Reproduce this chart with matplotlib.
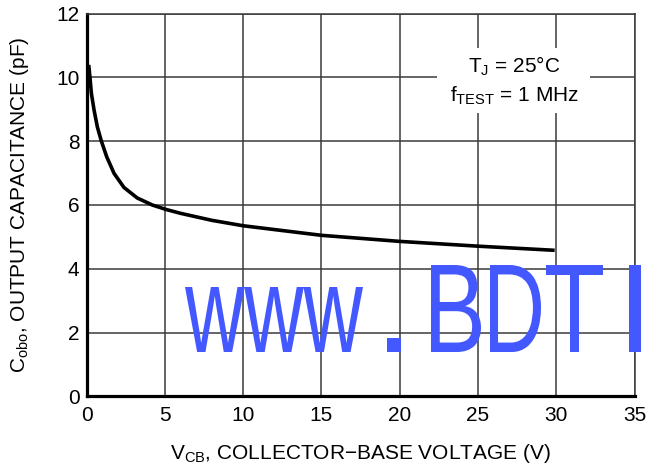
import numpy as np
import matplotlib
matplotlib.use("Agg")
import matplotlib.pyplot as plt
from matplotlib.textpath import TextPath
from matplotlib.patches import PathPatch, Rectangle
from matplotlib.font_manager import FontProperties
from matplotlib.transforms import Affine2D

# output capacitance vs collector-base voltage
vcb = [0.14, 0.22, 0.31, 0.48, 0.69, 0.95, 1.29, 1.76, 2.39, 3.24, 4.2, 5.08,
       6.0, 8.0, 10, 15, 20, 25, 29.9]
cobo = [10.39, 10.0, 9.5, 8.98, 8.45, 8.0, 7.51, 6.99, 6.55, 6.22, 6.0, 5.86,
        5.74, 5.52, 5.35, 5.05, 4.86, 4.71, 4.58]

x_ticks = [0, 5, 10, 15, 20, 25, 30, 35]
y_ticks = [0, 2, 4, 6, 8, 10, 12]

plt.rcParams['font.family'] = 'Liberation Sans'
plt.rcParams['mathtext.fontset'] = 'custom'
plt.rcParams['mathtext.rm'] = 'Liberation Sans'
plt.rcParams['mathtext.it'] = 'Liberation Sans:italic'

W, H = 650, 469
fs = 15
fig = plt.figure(figsize=(W / 100, H / 100), dpi=100)
ax = fig.add_axes([0.1331, 0.1546, 0.9762 - 0.1331, 0.9712 - 0.1546])

grid_c = '#3a3a3a'
ax.set_xlim(0, 35)
ax.set_ylim(0, 12)
ax.set_xticks(x_ticks)
ax.set_yticks(y_ticks)
ax.grid(True, color=grid_c, linewidth=1.1, zorder=1)
ax.set_axisbelow(True)
ax.tick_params(length=0, labelsize=fs, colors='black')
ax.tick_params(axis='x', pad=7)
ax.tick_params(axis='y', pad=5)
for s in ['left', 'bottom']:
    ax.spines[s].set_linewidth(2.3)
for s in ['top', 'right']:
    ax.spines[s].set_linewidth(1.1)
    ax.spines[s].set_color(grid_c)

ax.plot(vcb, cobo, color='black', linewidth=2.6, solid_joinstyle='round',
        solid_capstyle='butt', zorder=3)

ax.set_xlabel(r'V$_{\mathrm{CB}}$, COLLECTOR' + '\u2212' + 'BASE VOLTAGE (V)',
              fontsize=fs, va='center')
ax.xaxis.set_label_coords(0.5, -0.15)
ax.set_ylabel(r'C$_{\mathrm{obo}}$, OUTPUT CAPACITANCE (pF)', fontsize=fs, va='center')
ax.yaxis.set_label_coords(-0.122, 0.5)

# condition box (white patch hides the grid)
ax.add_patch(Rectangle((0.640, 0.740), 0.279, 0.170, transform=ax.transAxes,
                       facecolor='white', edgecolor='none', zorder=2))
ax.text(0.780, 0.845, r'T$_{\mathrm{J}}$ = 25°C', transform=ax.transAxes,
        ha='center', va='baseline', fontsize=fs, zorder=4)
ax.text(0.780, 0.769, r'f$_{\mathrm{TEST}}$ = 1 MHz', transform=ax.transAxes,
        ha='center', va='baseline', fontsize=fs, zorder=4)


def stamp(s, x0, x1, ytop, ybot):
    # squeeze a glyph run into a pixel box (image coords, y down)
    tp = TextPath((0, 0), s, size=100, prop=FontProperties(family='Liberation Sans'))
    ext = tp.get_extents()
    tr = (Affine2D().translate(-ext.x0, -ext.y0)
          .scale((x1 - x0) / ext.width, (ybot - ytop) / ext.height)
          .translate(x0, H - ybot).scale(1 / W, 1 / H))
    p = PathPatch(tr.transform_path(tp), facecolor='#4458ff', edgecolor='none',
                  transform=fig.transFigure, zorder=10)
    fig.add_artist(p)


stamp('www', 185, 363, 287, 352)
stamp('.', 387, 401, 338, 352)
stamp('B', 431, 481, 265, 352)
stamp('D', 490, 541, 265, 352)
stamp('T', 546, 603, 265, 352)
stamp('I', 629, 641, 265, 352)

fig.savefig('out.png', dpi=100)
